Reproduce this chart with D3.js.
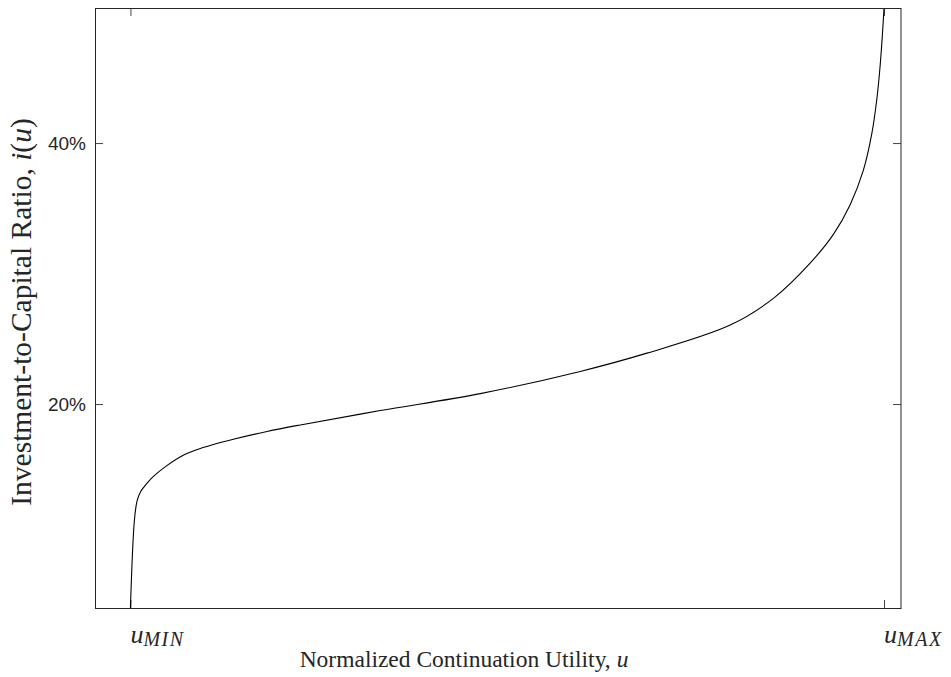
<!DOCTYPE html>
<html>
<meta charset="utf-8">
<head>
<title>Investment-to-Capital Ratio</title>
<style>
body { margin: 0; background: #fff; }
.curve { fill: none; stroke: #000; stroke-width: 1.1px; }
.frame { fill: none; stroke: #262626; stroke-width: 1px; }
.ylab { font-family: "Liberation Sans", Arial, sans-serif; font-size: 19px; fill: #262626; }
.axtitle { font-family: "Liberation Serif", "Times New Roman", serif; fill: #262626; }
.mathlab { font-family: "Liberation Serif", serif; font-style: italic; fill: #262626; }
</style>
</head>
<body>
<script src="https://cdnjs.cloudflare.com/ajax/libs/d3/7.8.5/d3.min.js"></script>
<script>

// normalized continuation utility, 0 = u_MIN, 1 = u_MAX
var uVals = [0, 0.0053, 0.0089, 0.0133, 0.0176, 0.0239, 0.0309, 0.0487, 0.0707, 0.0928, 0.1366, 0.1813,
             0.2255, 0.3316, 0.4642, 0.5968, 0.6853, 0.7958, 0.8532, 0.9019, 0.9328,
             0.9549, 0.9725, 0.9837, 0.9903, 0.9947, 0.9977, 1.0];
// investment-to-capital ratio, percent
var iVals = [4.37, 11.1, 12.6, 13.26, 13.62, 14.06, 14.47, 15.3, 16.1, 16.6, 17.3, 17.9,
             18.4, 19.5, 20.8, 22.5, 23.9, 26.05, 28.1, 30.8, 33.0,
             35.25, 37.9, 40.7, 43.3, 45.85, 48.2, 50.35];

var yTicks = [20, 40];
var xTicks = [0, 1];
var xTickNames = [["u", "MIN"], ["u", "MAX"]];

var margin = {top: 8, right: 50, bottom: 69, left: 95},
    width = 951 - margin.left - margin.right,
    height = 677 - margin.top - margin.bottom;

var svg = d3.select("body").append("svg")
    .attr("width", 951)
    .attr("height", 677)
  .append("g")
    .attr("transform", "translate(" + margin.left + "," + margin.top + ")");

var x = d3.scaleLinear()
    .domain([-0.047, 1.0225])
    .range([0, width]);

var y = d3.scaleLinear()
    .domain([4.37, 50.35])
    .range([height, 0]);

// ticks pointing inward on all four sides
svg.append("g")
    .call(d3.axisLeft(y).tickValues(yTicks).tickSize(-8).tickFormat(""));
svg.append("g")
    .attr("transform", "translate(" + width + ",0)")
    .call(d3.axisRight(y).tickValues(yTicks).tickSize(-8).tickFormat(""));
svg.append("g")
    .attr("transform", "translate(0," + height + ")")
    .call(d3.axisBottom(x).tickValues(xTicks).tickSize(-8).tickFormat(""));
svg.append("g")
    .call(d3.axisTop(x).tickValues(xTicks).tickSize(-8).tickFormat(""));
svg.selectAll(".domain").remove();
svg.selectAll(".tick line").style("stroke", "#444");

// y tick labels
svg.selectAll(".ylab")
  .data(yTicks).enter()
  .append("text")
    .attr("class", "ylab")
    .attr("x", -9)
    .attr("y", d => y(d))
    .attr("dy", "0.35em")
    .style("text-anchor", "end")
    .text(d => d + "%");

// x tick labels, u with subscript
var xl = svg.selectAll(".mathlab")
  .data(xTicks).enter()
  .append("text")
    .attr("class", "mathlab")
    .attr("x", d => x(d))
    .attr("y", height + 35)
    .style("font-size", "26px");
xl.append("tspan").text((d, i) => xTickNames[i][0]);
xl.append("tspan")
    .attr("dy", 3)
    .style("font-size", "20px")
    .style("letter-spacing", "1.5px")
    .text((d, i) => xTickNames[i][1]);

// the curve
var line = d3.line()
    .x((d, i) => x(uVals[i]))
    .y(d => y(d))
    .curve(d3.curveCatmullRom.alpha(0.5));

svg.append("path")
    .datum(iVals)
    .attr("class", "curve")
    .attr("d", line);

// frame
svg.append("rect")
    .attr("class", "frame")
    .attr("x", 0.5)
    .attr("y", 0.5)
    .attr("width", width - 0.5)
    .attr("height", height);

// axis titles
var xt = svg.append("text")
    .attr("class", "axtitle")
    .attr("x", 369)
    .attr("y", height + 59)
    .style("font-size", "23.5px")
    .style("text-anchor", "middle")
    .text("Normalized Continuation Utility, ");
xt.append("tspan").style("font-style", "italic").text("u");

var yt = svg.append("text")
    .attr("class", "axtitle")
    .attr("transform", "translate(-64," + (height / 2 + 4) + ") rotate(-90)")
    .style("font-size", "29.5px")
    .style("text-anchor", "middle")
    .text("Investment-to-Capital Ratio, ");
yt.append("tspan").style("font-style", "italic").text("i");
yt.append("tspan").text("(");
yt.append("tspan").style("font-style", "italic").text("u");
yt.append("tspan").text(")");

</script>
</body>
</html>
